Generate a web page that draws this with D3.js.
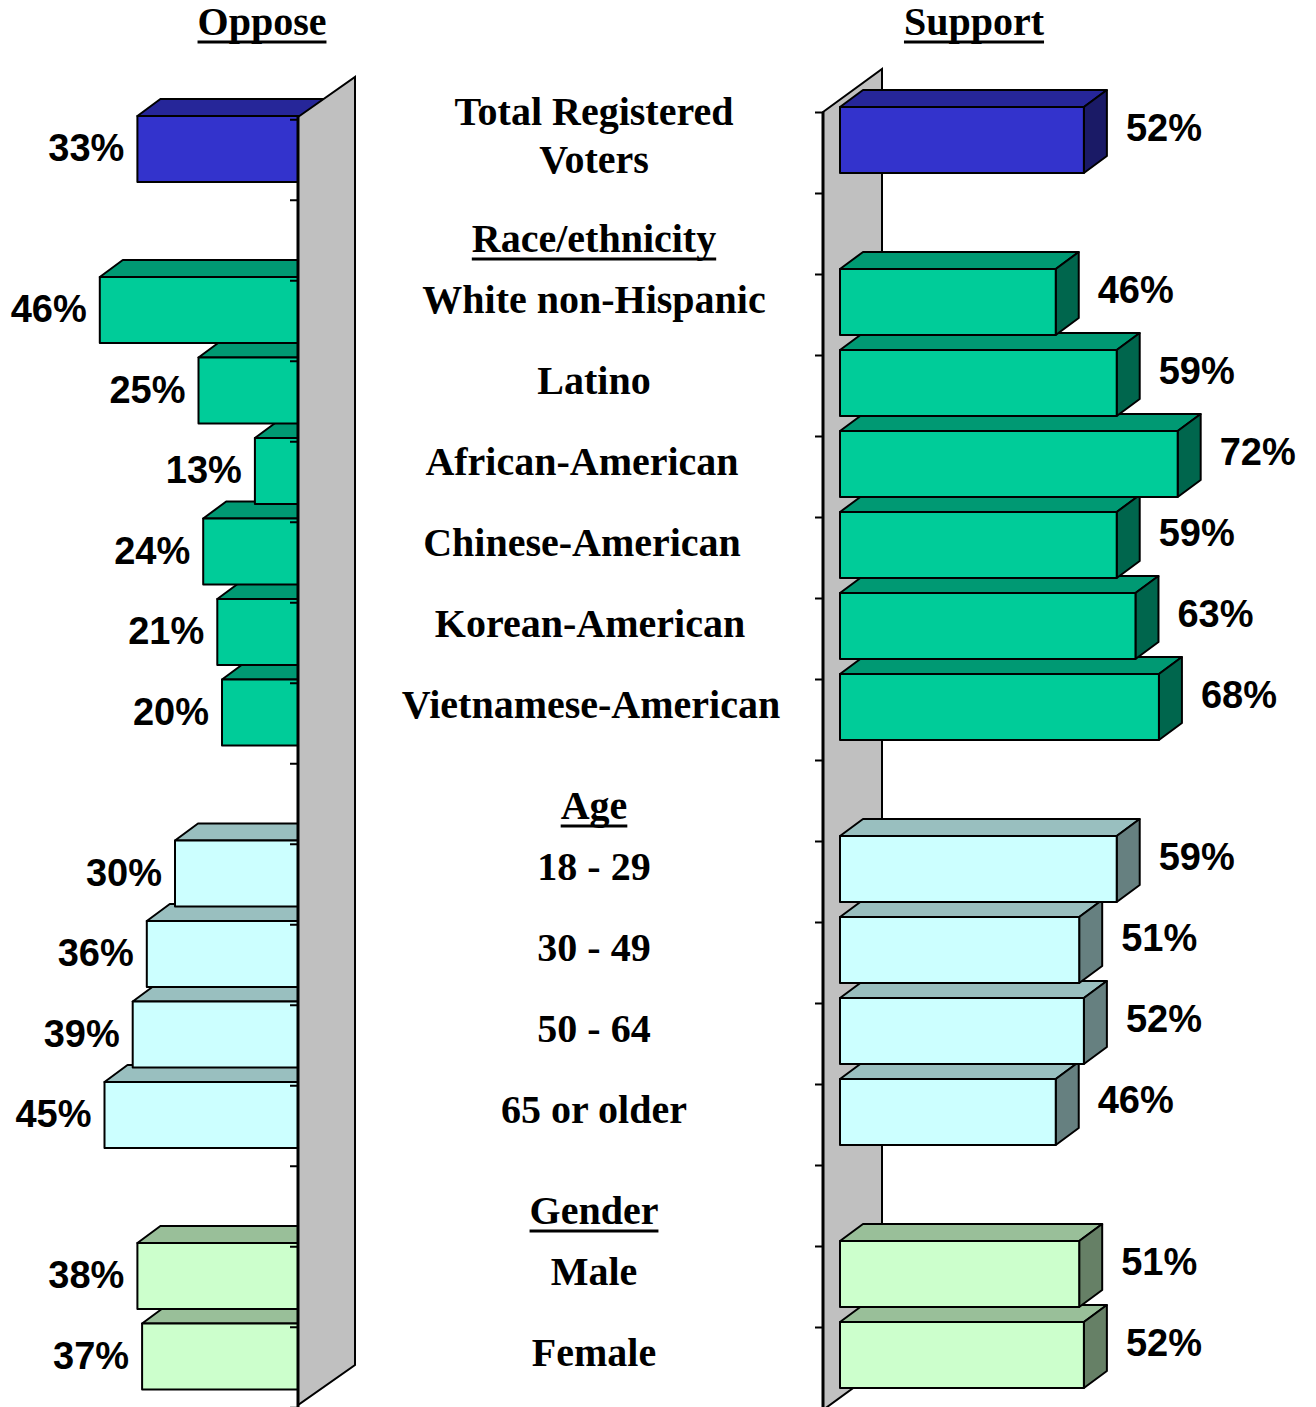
<!DOCTYPE html>
<html>
<head>
<meta charset="utf-8">
<script src="https://cdn.jsdelivr.net/npm/d3@7/dist/d3.min.js"></script>
<style>
body{margin:0;background:#fff}
</style>
</head>
<body>
<svg id="chart" width="1316" height="1407"></svg>
<script>
// rows top to bottom, headings take a slot of their own
var rows = ["Total Registered Voters","Race/ethnicity","White non-Hispanic","Latino","African-American",
	"Chinese-American","Korean-American","Vietnamese-American","Age","18 - 29","30 - 49","50 - 64",
	"65 or older","Gender","Male","Female"];
var headings = ["Race/ethnicity","Age","Gender"];

var categories = ["Total Registered Voters","White non-Hispanic","Latino","African-American","Chinese-American",
	"Korean-American","Vietnamese-American","18 - 29","30 - 49","50 - 64","65 or older","Male","Female"];
var groups = ["total","race","race","race","race","race","race","age","age","age","age","gender","gender"];
var oppose  = [33,46,25,13,24,21,20,30,36,39,45,38,37];
var support = [52,46,59,72,59,63,68,59,51,52,46,51,52];
// the source draws the total "oppose" bar at about 38 although it is labelled 33%
var opposeBar = oppose.slice();
opposeBar[0] = 38;

var fills = {total:"#3333cc", race:"#00cc99", age:"#ccffff", gender:"#ccffcc"};

var svg = d3.select("#chart");
svg.append("rect").attr("width",1316).attr("height",1407).attr("fill","#fff");

var yR = d3.scaleBand().domain(rows).range([99.5,1395.5]);
var yL = d3.scaleBand().domain(rows).range([108.75,1396.75]);
var xR = d3.scaleLinear().domain([0,100]).range([840,1309]);
var xL = d3.scaleLinear().domain([0,100]).range([316,-154]);
var barH = 66, ddx = 23, ddy = -17;

function shade(c,k){
	var r = d3.rgb(c);
	return d3.rgb(r.r*k, r.g*k, r.b*k).formatHex();
}
function pts(a){ return a.map(function(p){ return p.join(","); }).join(" "); }

var bars = categories.map(function(c,i){
	return {cat:c, group:groups[i], opp:oppose[i], oppLen:opposeBar[i], sup:support[i]};
});
var bottomUp = bars.slice().reverse();

// ---------- right panel (Support) ----------
var right = svg.append("g");
right.append("polygon")
	.attr("points", pts([[823,112],[882,69],[882,1367],[823,1410]]))
	.attr("fill","#c0c0c0").attr("stroke","#000").attr("stroke-width",2);
right.append("line").attr("x1",823).attr("x2",823).attr("y1",112).attr("y2",1410)
	.attr("stroke","#000").attr("stroke-width",3);
right.selectAll(".tickR").data(rows.concat(["end"])).enter().append("line")
	.attr("x1",815).attr("x2",823)
	.attr("y1",function(d,i){ return yR.range()[0] + 13 + i*yR.step(); })
	.attr("y2",function(d,i){ return yR.range()[0] + 13 + i*yR.step(); })
	.attr("stroke","#000").attr("stroke-width",2);

var rb = right.selectAll(".barR").data(bottomUp).enter().append("g");
rb.each(function(d){
	var g = d3.select(this);
	var top = yR(d.cat) + yR.bandwidth()/2 - barH/2, bot = top + barH;
	var x0 = xR(0), x1 = xR(d.sup), f = fills[d.group];
	g.append("polygon").attr("points", pts([[x0,top],[x1,top],[x1+ddx,top+ddy],[x0+ddx,top+ddy]]))
		.attr("fill", shade(f,0.75));
	g.append("polygon").attr("points", pts([[x1,top],[x1+ddx,top+ddy],[x1+ddx,bot+ddy],[x1,bot]]))
		.attr("fill", shade(f,0.5));
	g.append("rect").attr("x",x0).attr("y",top).attr("width",x1-x0).attr("height",barH)
		.attr("fill", f);
	g.selectAll("polygon,rect").attr("stroke","#000").attr("stroke-width",2).attr("stroke-linejoin","round");
});

right.selectAll(".lblR").data(bars).enter().append("text")
	.attr("x",function(d){ return xR(d.sup) + 42; })
	.attr("y",function(d){ return yR(d.cat) + yR.bandwidth()/2 + 1; })
	.attr("font-family","'Liberation Sans', Arial, sans-serif").attr("font-weight","bold")
	.attr("font-size",38).attr("fill","#000")
	.text(function(d){ return d.sup + "%"; });

// ---------- left panel (Oppose) ----------
var left = svg.append("g");
var lb = left.selectAll(".barL").data(bottomUp).enter().append("g");
lb.each(function(d){
	var g = d3.select(this);
	var top = yL(d.cat) + yL.bandwidth()/2 - barH/2;
	var x0 = xL(0), x1 = xL(d.oppLen), f = fills[d.group];
	g.append("polygon").attr("points", pts([[x1,top],[x0,top],[x0+ddx,top+ddy],[x1+ddx,top+ddy]]))
		.attr("fill", shade(f,0.75));
	g.append("rect").attr("x",x1).attr("y",top).attr("width",x0-x1).attr("height",barH)
		.attr("fill", f);
	g.selectAll("polygon,rect").attr("stroke","#000").attr("stroke-width",2).attr("stroke-linejoin","round");
});
left.append("polygon")
	.attr("points", pts([[298,117],[355,77],[355,1365],[298,1405]]))
	.attr("fill","#c0c0c0").attr("stroke","#000").attr("stroke-width",2);
left.append("line").attr("x1",298).attr("x2",298).attr("y1",117).attr("y2",1407)
	.attr("stroke","#000").attr("stroke-width",3);
left.selectAll(".tickL").data(rows.concat(["end"])).enter().append("line")
	.attr("x1",290).attr("x2",298)
	.attr("y1",function(d,i){ return yL.range()[0] + 11 + i*yL.step(); })
	.attr("y2",function(d,i){ return yL.range()[0] + 11 + i*yL.step(); })
	.attr("stroke","#000").attr("stroke-width",2);

left.selectAll(".lblL").data(bars).enter().append("text")
	.attr("x",function(d){ return xL(d.oppLen) - 13; })
	.attr("y",function(d){ return yL(d.cat) + yL.bandwidth()/2 + 12; })
	.attr("text-anchor","end")
	.attr("font-family","'Liberation Sans', Arial, sans-serif").attr("font-weight","bold")
	.attr("font-size",38).attr("fill","#000")
	.text(function(d){ return d.opp + "%"; });

// ---------- centre labels ----------
var serif = "'Liberation Serif','Times New Roman',serif";
var nudge = {"African-American":-12, "Chinese-American":-12, "Korean-American":-4, "Vietnamese-American":-3};

function underline(t){
	var w = t.node().getComputedTextLength();
	var x = +t.attr("x"), y = +t.attr("y");
	var a = t.attr("text-anchor");
	var xs = a === "middle" ? x - w/2 : x;
	svg.append("line").attr("x1",xs).attr("x2",xs+w).attr("y1",y+7).attr("y2",y+7)
		.attr("stroke","#000").attr("stroke-width",3);
}

var mid = svg.append("g");
rows.forEach(function(r){
	var cy = yR(r) + yR.bandwidth()/2;
	var t = mid.append("text")
		.attr("x", 594 + (nudge[r] || 0))
		.attr("text-anchor","middle")
		.attr("font-family",serif).attr("font-weight","bold").attr("font-size",40)
		.attr("fill","#000");
	if (r === "Total Registered Voters") {
		t.append("tspan").attr("x",594).attr("y",cy - 15).text("Total Registered");
		t.append("tspan").attr("x",594).attr("y",cy + 33).text("Voters");
	} else if (headings.indexOf(r) >= 0) {
		t.attr("y", cy + 31).text(r);
		underline(t);
	} else {
		t.attr("y", cy + 11).text(r);
	}
});

// ---------- titles ----------
[["Oppose",262],["Support",974]].forEach(function(p){
	var t = svg.append("text").attr("x",p[1]).attr("y",35).attr("text-anchor","middle")
		.attr("font-family",serif).attr("font-weight","bold").attr("font-size",40)
		.attr("fill","#000").text(p[0]);
	underline(t);
});
</script>
</body>
</html>
